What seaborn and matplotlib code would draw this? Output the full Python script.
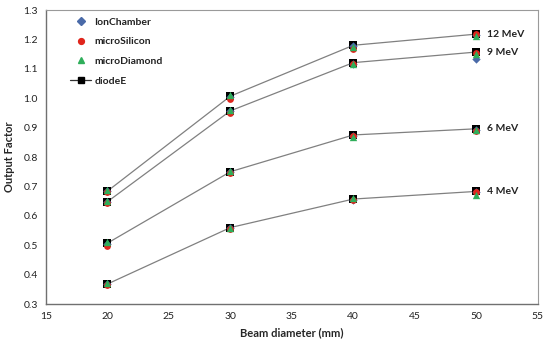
import matplotlib
matplotlib.use("Agg")
import matplotlib.pyplot as plt
import seaborn as sns
import pandas as pd
from matplotlib.lines import Line2D

beam = [20, 30, 40, 50]
energies = ["4 MeV", "6 MeV", "9 MeV", "12 MeV"]

diodeE = {
    "4 MeV": [0.368, 0.560, 0.657, 0.683],
    "6 MeV": [0.507, 0.750, 0.875, 0.896],
    "9 MeV": [0.648, 0.957, 1.121, 1.157],
    "12 MeV": [0.684, 1.007, 1.180, 1.218],
}
microDiamond = {
    "4 MeV": [0.373, 0.558, 0.660, 0.672],
    "6 MeV": [0.512, 0.752, 0.869, 0.893],
    "9 MeV": [0.652, 0.960, 1.116, 1.152],
    "12 MeV": [0.688, 1.010, 1.175, 1.210],
}
microSilicon = {
    "4 MeV": [0.366, 0.556, 0.655, 0.680],
    "6 MeV": [0.497, 0.745, 0.872, 0.889],
    "9 MeV": [0.645, 0.950, 1.115, 1.155],
    "12 MeV": [0.680, 0.998, 1.167, 1.220],
}
ionChamber = {
    "4 MeV": [0.368, 0.558, 0.655, 0.680],
    "6 MeV": [0.505, 0.748, 0.870, 0.892],
    "9 MeV": [0.648, 0.955, 1.118, 1.133],
    "12 MeV": [0.685, 1.003, 1.178, 1.215],
}


def to_long(d):
    rows = []
    for e in energies:
        for x, v in zip(beam, d[e]):
            rows.append({"energy": e, "beam": x, "of": v})
    return pd.DataFrame(rows)


df_diode = to_long(diodeE)
df_dia = to_long(microDiamond)
df_si = to_long(microSilicon)
df_ion = to_long(ionChamber)

sns.set_theme(style="white")
plt.rcParams["font.family"] = ["Lato", "DejaVu Sans"]

fig = plt.figure(figsize=(5.5, 3.5), dpi=100)
ax = fig.add_axes([0.0836, 0.1314, 0.894, 0.84])

# diodeE connecting lines
sns.lineplot(data=df_diode, x="beam", y="of", units="energy", estimator=None,
             color="#808080", linewidth=0.9, ax=ax, legend=False, zorder=2)
sns.scatterplot(data=df_diode, x="beam", y="of", marker="s", color="black",
                s=30, linewidth=0, ax=ax, legend=False, zorder=3)
sns.scatterplot(data=df_ion, x="beam", y="of", marker="D", color="#4a6aa8",
                s=18, linewidth=0, ax=ax, legend=False, zorder=4)
sns.scatterplot(data=df_si, x="beam", y="of", marker="o", color="#e0251c",
                s=24, linewidth=0, ax=ax, legend=False, zorder=5)
sns.scatterplot(data=df_dia, x="beam", y="of", marker="^", color="#2fae5a",
                s=28, linewidth=0, ax=ax, legend=False, zorder=6)

for e in energies:
    ax.text(50.9, diodeE[e][-1], e, fontsize=7.5, fontweight="bold",
            va="center", ha="left", color="#222222")

ax.set_xlim(15, 55)
ax.set_ylim(0.3, 1.3)
ax.set_xticks([15, 20, 25, 30, 35, 40, 45, 50, 55])
ax.set_yticks([0.3, 0.4, 0.5, 0.6, 0.7, 0.8, 0.9, 1.0, 1.1, 1.2, 1.3])
ax.set_yticklabels([f"{v:.1f}" for v in ax.get_yticks()])
ax.tick_params(axis="both", direction="in", length=3, width=0.8,
               labelsize=7.5, colors="#404040", pad=6)
ax.tick_params(axis="both", labelcolor="#222222")
for side in ["left", "bottom"]:
    ax.spines[side].set_color("#707070")
    ax.spines[side].set_linewidth(1.0)
for side in ["right", "top"]:
    ax.spines[side].set_color("#9a9a9a")
    ax.spines[side].set_linewidth(0.8)

ax.set_xlabel("Beam diameter (mm)", fontsize=8, fontweight="bold", labelpad=4)
ax.set_ylabel("Output Factor", fontsize=8, fontweight="bold", labelpad=6)

handles = [
    Line2D([], [], marker="D", color="#4a6aa8", linestyle="none", markersize=3.8),
    Line2D([], [], marker="o", color="#e0251c", linestyle="none", markersize=4.2),
    Line2D([], [], marker="^", color="#2fae5a", linestyle="none", markersize=5),
    Line2D([], [], marker="s", color="#333333", linestyle="-", markersize=5,
           linewidth=0.9, markerfacecolor="black", markeredgecolor="black"),
]
leg = ax.legend(handles, ["IonChamber", "microSilicon", "microDiamond", "diodeE"],
                loc="upper left", bbox_to_anchor=(0.035, 1.0), frameon=False,
                prop={"weight": "bold", "size": 7.5}, handlelength=2.0,
                labelspacing=1.0, handletextpad=0.3, borderaxespad=0.3)
for t in leg.get_texts():
    t.set_color("#222222")

fig.savefig("out.png", dpi=100)
